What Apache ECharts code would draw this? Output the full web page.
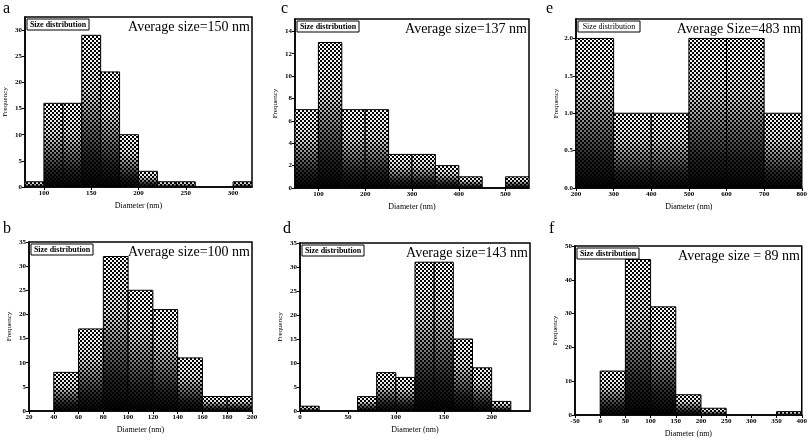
<!DOCTYPE html>
<html><head><meta charset="utf-8">
<script src="https://cdn.jsdelivr.net/npm/echarts@6/dist/echarts.min.js"></script>
<style>html,body{margin:0;padding:0;background:#fff}#c{width:810px;height:440px}</style>
</head><body><div id="c"></div>
<script>
// ---- data (bin left edges, bin width, counts, ticks) ----
const aLeft = [80,100,120,140,160,180,200,220,240,260,280,300];
const aCounts = [1,16,16,29,22,10,3,1,1,0,0,1];
const aWidth = 20;
const aXTicks = [100,150,200,250,300];
const aYTicks = [0,5,10,15,20,25,30];
const aTitle = 'Average size=150 nm';

const cLeft = [50,100,150,200,250,300,350,400,450,500];
const cCounts = [7,13,7,7,3,3,2,1,0,1];
const cWidth = 50;
const cXTicks = [100,200,300,400,500];
const cYTicks = [0,2,4,6,8,10,12,14];
const cTitle = 'Average size=137 nm';

const eLeft = [200,300,400,500,600,700];
const eCounts = [2,1,1,2,2,1];
const eWidth = 100;
const eXTicks = [200,300,400,500,600,700,800];
const eYTicks = [0,0.5,1.0,1.5,2.0];
const eTitle = 'Average Size=483 nm';

const bLeft = [20,40,60,80,100,120,140,160,180];
const bCounts = [0,8,17,32,25,21,11,3,3];
const bWidth = 20;
const bXTicks = [20,40,60,80,100,120,140,160,180,200];
const bYTicks = [0,5,10,15,20,25,30,35];
const bTitle = 'Average size=100 nm';

const dLeft = [0,20,40,60,80,100,120,140,160,180,200];
const dCounts = [1,0,0,3,8,7,31,31,15,9,2];
const dWidth = 20;
const dXTicks = [0,50,100,150,200];
const dYTicks = [0,5,10,15,20,25,30,35];
const dTitle = 'Average size=143 nm';

const fLeft = [0,50,100,150,200,250,300,350];
const fCounts = [13,46,32,6,2,0,0,1];
const fWidth = 50;
const fXTicks = [-50,0,50,100,150,200,250,300,350,400];
const fYTicks = [0,10,20,30,40,50];
const fTitle = 'Average size = 89 nm';

// ---- layout ----
const panels = [
  {id:'a', left:aLeft, counts:aCounts, w:aWidth, xt:aXTicks, yt:aYTicks, title:aTitle, xmin:80, xmax:320, ymax:32.5, dec:0,
   grid:{left:25, top:17, width:227, height:170}, lab:[3,9], boldBox:true},
  {id:'c', left:cLeft, counts:cCounts, w:cWidth, xt:cXTicks, yt:cYTicks, title:cTitle, xmin:50, xmax:550, ymax:15.1, dec:0,
   grid:{left:295, top:19, width:234, height:169}, lab:[281,9], boldBox:true},
  {id:'e', left:eLeft, counts:eCounts, w:eWidth, xt:eXTicks, yt:eYTicks, title:eTitle, xmin:200, xmax:800, ymax:2.26, dec:1,
   grid:{left:576, top:19, width:227, height:169}, lab:[546,9], boldBox:false},
  {id:'b', left:bLeft, counts:bCounts, w:bWidth, xt:bXTicks, yt:bYTicks, title:bTitle, xmin:20, xmax:200, ymax:35, dec:0,
   grid:{left:29, top:242, width:223, height:169}, lab:[3,229], boldBox:true},
  {id:'d', left:dLeft, counts:dCounts, w:dWidth, xt:dXTicks, yt:dYTicks, title:dTitle, xmin:0, xmax:240, ymax:35, dec:0,
   grid:{left:300, top:243, width:230, height:168}, lab:[283,229], boldBox:true},
  {id:'f', left:fLeft, counts:fCounts, w:fWidth, xt:fXTicks, yt:fYTicks, title:fTitle, xmin:-50, xmax:400, ymax:50, dec:0,
   grid:{left:575, top:246, width:227, height:169}, lab:[549,229], boldBox:true}
];

const FONT = 'Liberation Serif';

// checker pattern
const pc = document.createElement('canvas');
pc.width = 4; pc.height = 4;
const g = pc.getContext('2d');
g.fillStyle = '#fff'; g.fillRect(0,0,4,4);
g.fillStyle = '#000'; g.fillRect(0,0,2,2); g.fillRect(2,2,2,2);
const pattern = {image: pc, repeat: 'repeat'};

function shade(){
  return new echarts.graphic.LinearGradient(0,0,0,1,[
    {offset:0, color:'rgba(0,0,0,0)'},
    {offset:0.35, color:'rgba(0,0,0,0.12)'},
    {offset:0.8, color:'rgba(0,0,0,0.85)'},
    {offset:1, color:'rgba(0,0,0,1)'}
  ]);
}

const grids = [], xAxes = [], yAxes = [], series = [], graphics = [];
panels.forEach((p, i) => {
  grids.push(Object.assign({show:true, borderColor:'#000', borderWidth:1.5, backgroundColor:'rgba(0,0,0,0)'}, p.grid));
  const fmt = v => Number(v).toFixed(p.dec);
  xAxes.push({
    type:'value', gridIndex:i, min:p.xmin, max:p.xmax,
    name:'Diameter (nm)', nameLocation:'middle', nameGap:15,
    nameTextStyle:{fontFamily:FONT, fontSize:8, color:'#000'},
    axisLine:{show:true, onZero:false, lineStyle:{color:'#000', width:1.5}},
    axisTick:{show:true, customValues:p.xt, length:3, lineStyle:{color:'#000'}},
    axisLabel:{customValues:p.xt, fontFamily:FONT, fontSize:7, fontWeight:'bold', color:'#000', margin:3},
    splitLine:{show:false}
  });
  yAxes.push({
    type:'value', gridIndex:i, min:0, max:p.ymax,
    name:'Frequency', nameLocation:'middle', nameGap:16,
    nameTextStyle:{fontFamily:FONT, fontSize:7, color:'#000'},
    axisLine:{show:true, onZero:false, lineStyle:{color:'#000', width:1.5}},
    axisTick:{show:true, customValues:p.yt, length:3, lineStyle:{color:'#000'}},
    axisLabel:{customValues:p.yt, fontFamily:FONT, fontSize:7, fontWeight:'bold', color:'#000', margin:3, formatter:fmt},
    splitLine:{show:false}
  });
  const data = p.left.map((x, j) => [x, x + p.w, p.counts[j]]).filter(d => d[2] > 0);
  series.push({
    type:'custom', xAxisIndex:i, yAxisIndex:i, data:data,
    encode:{x:[0,1], y:2}, clip:true,
    renderItem:(params, api) => {
      const p0 = api.coord([api.value(0), api.value(2)]);
      const p1 = api.coord([api.value(1), 0]);
      const shape = {x:p0[0], y:p0[1], width:p1[0]-p0[0], height:p1[1]-p0[1]};
      return {type:'group', children:[
        {type:'rect', shape:shape, style:{fill:pattern}},
        {type:'rect', shape:shape, style:{fill:shade(), stroke:'#000', lineWidth:1}}
      ]};
    }
  });
  // panel label
  graphics.push({type:'text', left:p.lab[0], top:p.lab[1]-8, style:{text:p.id, font:'16px "'+FONT+'"', fill:'#000'}});
  // size distribution box
  const bx = p.grid.left + 2, by = p.grid.top + 2;
  graphics.push({type:'rect', shape:{x:bx, y:by, width:62, height:11}, style:{fill:'#fff', stroke:'#000', lineWidth:1}, z:10});
  graphics.push({type:'text', x:bx+31, y:by+5.5, style:{text:'Size distribution', font:(p.boldBox?'bold ':'')+'8px "'+FONT+'"', fill:'#000', align:'center', verticalAlign:'middle'}, z:11});
  // average text
  graphics.push({type:'text', x:p.grid.left + p.grid.width - 2, y:p.grid.top + 10, style:{text:p.title, font:'14px "'+FONT+'"', fill:'#000', align:'right', verticalAlign:'middle'}, z:11});
});

const chart = echarts.init(document.getElementById('c'), null, {renderer:'canvas'});
chart.setOption({
  animation:false,
  backgroundColor:'#fff',
  grid:grids, xAxis:xAxes, yAxis:yAxes, series:series, graphic:graphics
});
</script></body></html>
